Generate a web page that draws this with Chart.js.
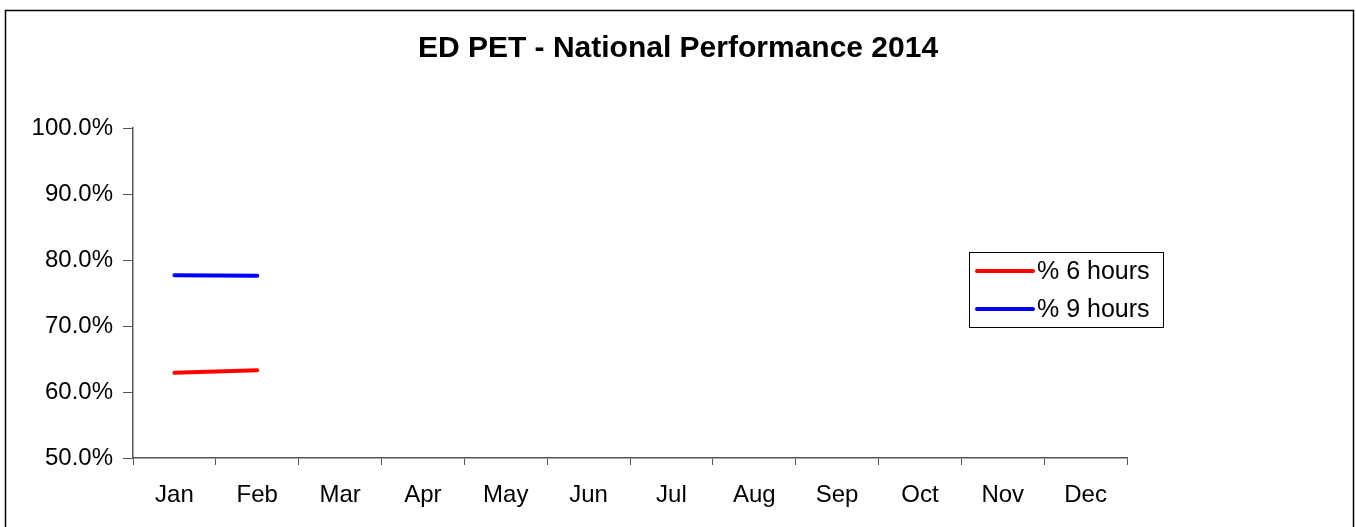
<!DOCTYPE html>
<html>
<head>
<meta charset="utf-8">
<title>ED PET - National Performance 2014</title>
<script src="https://cdn.jsdelivr.net/npm/chart.js@4/dist/chart.umd.min.js"></script>
<style>
  html, body { margin: 0; padding: 0; background: #fff; overflow: hidden; }
  canvas { display: block; }
</style>
</head>
<body>
<canvas id="petChart" width="1356" height="527"></canvas>
<script>
  const months = ['Jan', 'Feb', 'Mar', 'Apr', 'May', 'Jun', 'Jul', 'Aug', 'Sep', 'Oct', 'Nov', 'Dec'];
  const sixHours = [62.9, 63.3, null, null, null, null, null, null, null, null, null, null];
  const nineHours = [77.7, 77.6, null, null, null, null, null, null, null, null, null, null];
  const seriesNames = ['% 6 hours', '% 9 hours'];
  const seriesColors = ['#ff0000', '#0000ff'];

  const FONT = '"Liberation Sans", Arial, sans-serif';

  // outer frame round the whole chart
  const framePlugin = {
    id: 'frame',
    beforeDraw(chart) {
      const ctx = chart.ctx;
      ctx.save();
      ctx.fillStyle = '#fff';
      ctx.fillRect(0, 0, chart.width, chart.height);
      ctx.strokeStyle = '#000';
      ctx.lineWidth = 1.5;
      ctx.strokeRect(5.5, 10.5, 1348, 600);
      ctx.restore();
    }
  };

  // boxed legend sitting on the right of the plot
  const boxLegend = {
    id: 'boxLegend',
    afterDraw(chart) {
      const ctx = chart.ctx;
      const x = 969, y = 252, w = 194, h = 75;
      ctx.save();
      ctx.fillStyle = '#fff';
      ctx.fillRect(x, y, w, h);
      ctx.strokeStyle = '#000';
      ctx.lineWidth = 1;
      ctx.strokeRect(x + 0.5, y + 0.5, w, h);
      chart.data.datasets.forEach((ds, i) => {
        const ly = y + 19 + i * 38;
        ctx.strokeStyle = ds.borderColor;
        ctx.lineWidth = 4;
        ctx.lineCap = 'round';
        ctx.beginPath();
        ctx.moveTo(x + 8, ly);
        ctx.lineTo(x + 64, ly);
        ctx.stroke();
        ctx.fillStyle = '#000';
        ctx.font = '25px ' + FONT;
        ctx.textBaseline = 'middle';
        ctx.fillText(ds.label, x + 68, ly + 1);
      });
      ctx.restore();
    }
  };

  new Chart(document.getElementById('petChart'), {
    type: 'line',
    data: {
      labels: months,
      datasets: [
        { label: seriesNames[0], data: sixHours, borderColor: seriesColors[0], backgroundColor: seriesColors[0] },
        { label: seriesNames[1], data: nineHours, borderColor: seriesColors[1], backgroundColor: seriesColors[1] }
      ]
    },
    options: {
      responsive: false,
      animation: false,
      layout: { padding: 0 },
      elements: {
        line: { borderWidth: 4, tension: 0, borderCapStyle: 'round' },
        point: { radius: 0, hoverRadius: 0 }
      },
      plugins: {
        legend: { display: false },
        tooltip: { enabled: false },
        title: {
          display: true,
          text: 'ED PET - National Performance 2014',
          color: '#000',
          font: { family: FONT, size: 30, weight: 'bold', lineHeight: 1.2 },
          padding: { top: 31, bottom: 61 }
        }
      },
      scales: {
        x: {
          offset: true,
          afterFit(scale) { scale.height = 69; },
          grid: { offset: true, drawOnChartArea: false, drawTicks: true, tickLength: 7, color: '#555' },
          border: { color: '#555', width: 1.5 },
          ticks: { color: '#000', padding: 16, maxRotation: 0, autoSkip: false, font: { family: FONT, size: 24 } }
        },
        y: {
          min: 50,
          max: 100,
          afterFit(scale) { scale.width = 133; },
          grid: { drawOnChartArea: false, drawTicks: true, tickLength: 10, color: '#555' },
          border: { color: '#555', width: 1.5 },
          ticks: {
            stepSize: 10,
            color: '#000',
            padding: 10,
            font: { family: FONT, size: 24 },
            callback: function (v) { return v.toFixed(1) + '%'; }
          }
        },
        // empty space on the right where the legend lives
        spacer: {
          type: 'linear',
          position: 'right',
          afterFit(scale) { scale.width = 229; },
          grid: { display: false },
          border: { display: false },
          ticks: { display: false }
        }
      }
    },
    plugins: [framePlugin, boxLegend]
  });
</script>
</body>
</html>
